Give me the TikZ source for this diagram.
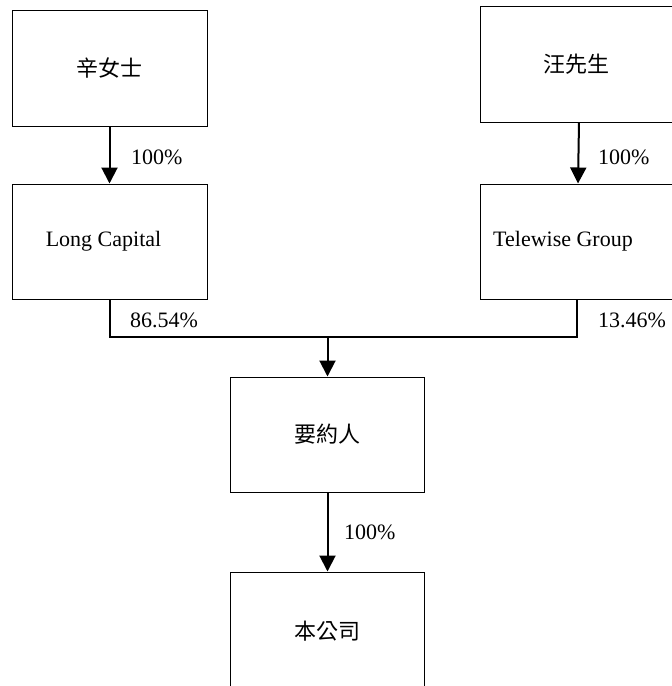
\documentclass[tikz,border=0pt]{standalone}
\usepackage{fontspec}
\setmainfont{Liberation Serif}
\newfontfamily\cjk{Noto Sans CJK TC}
\usepackage{tikz}
\usepackage{xcolor}
\usetikzlibrary{arrows.meta}
\tikzset{
    org-box/.style = {draw=black, fill=white, thin, rectangle, line width=1pt, inner sep=0pt, font=\fontsize{22}{25}\selectfont},
    pct-label/.style = {font=\fontsize{22}{25}\selectfont, anchor=west, inner sep=0pt},
    own-arrow/.style = {line width=2pt, -{Triangle[width=16pt,length=16pt]}},
    own-line/.style = {line width=2pt},
}
\begin{document}
\begin{tikzpicture}[x=1pt, y=-1pt]
\useasboundingbox (0,0) rectangle (672,686);
\node [org-box, minimum width=195pt, minimum height=116pt] (xin) at (109.5,68) {\cjk 辛女士};
\node [org-box, minimum width=192pt, minimum height=116pt] (wang) at (576,64) {\cjk 汪先生};
\node [org-box, minimum width=195pt, minimum height=115pt] (long) at (109.5,241.5) {Long Capital\hspace*{12pt}};
\node [org-box, minimum width=192pt, minimum height=115pt] (tele) at (576,241.5) {Telewise Group\hspace*{26pt}};
\node [org-box, minimum width=194pt, minimum height=115pt] (offeror) at (327,434.5) {\cjk 要約人};
\node [org-box, minimum width=194pt, minimum height=118pt] (company) at (327,631) {\cjk 本公司};
\coordinate (join) at (327.5,337);
% ownership
\draw [own-arrow] (xin.south) -- (long.north);
\draw [own-arrow] ([xshift=3pt]wang.south) -- ([xshift=2pt]tele.north);
\draw [own-line] (long.south) |- (join) -| ([xshift=1pt]tele.south);
\draw [own-arrow] (join) -- (offeror.north -| join);
\draw [own-arrow] (offeror.south -| join) -- (company.north -| join);
\node [pct-label] (xin-pct) at (131,157) {100\%};
\node [pct-label] (wang-pct) at (598,157) {100\%};
\node [pct-label] (long-pct) at (130,320) {86.54\%};
\node [pct-label] (tele-pct) at (598,320) {13.46\%};
\node [pct-label] (offeror-pct) at (344,532) {100\%};
\end{tikzpicture}
\end{document}
